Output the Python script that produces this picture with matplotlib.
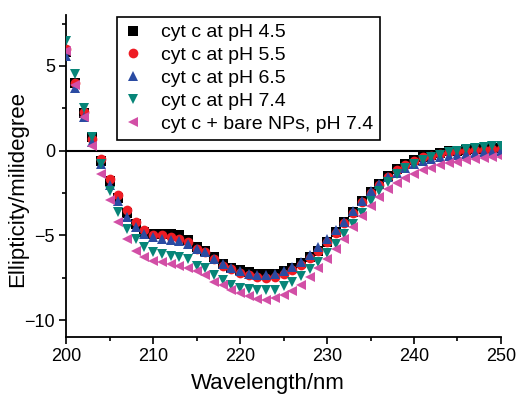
import numpy as np
import matplotlib
matplotlib.use("Agg")
import matplotlib.pyplot as plt
from matplotlib.ticker import MultipleLocator

plt.rcParams['font.family'] = ['Liberation Sans', 'DejaVu Sans']

wavelength = list(range(200, 251))

ph45 = [5.8, 4.0, 2.2, 0.8, -0.6, -1.8, -2.8, -3.7, -4.3, -4.8,
        -4.9, -4.9, -4.9, -5.0, -5.3, -5.7, -5.9, -6.3, -6.7, -6.9,
        -7.05, -7.15, -7.25, -7.3, -7.25, -7.1, -6.9, -6.65, -6.3, -5.9,
        -5.4, -4.8, -4.2, -3.6, -3.0, -2.45, -1.95, -1.5, -1.1, -0.8,
        -0.55, -0.4, -0.25, -0.15, -0.05, 0.0, 0.05, 0.1, 0.1, 0.15, 0.15]

ph55 = [6.0, 4.0, 2.3, 0.7, -0.5, -1.7, -2.6, -3.5, -4.2, -4.7,
        -4.95, -5.0, -5.1, -5.2, -5.4, -5.8, -6.0, -6.4, -6.8, -7.0,
        -7.2, -7.35, -7.45, -7.5, -7.45, -7.3, -7.05, -6.75, -6.35, -5.9,
        -5.4, -4.85, -4.25, -3.65, -3.05, -2.5, -2.0, -1.55, -1.15, -0.85,
        -0.6, -0.4, -0.3, -0.2, -0.1, -0.05, 0.0, 0.05, 0.05, 0.1, 0.1]

ph65 = [5.6, 3.7, 2.0, 0.5, -0.8, -2.0, -3.0, -3.9, -4.5, -4.9,
        -5.1, -5.2, -5.3, -5.35, -5.5, -5.8, -6.0, -6.4, -6.7, -6.95,
        -7.1, -7.25, -7.35, -7.35, -7.25, -7.1, -6.85, -6.55, -6.15, -5.7,
        -5.2, -4.7, -4.2, -3.55, -2.95, -2.4, -1.95, -1.55, -1.3, -1.0,
        -0.8, -0.6, -0.5, -0.4, -0.3, -0.25, -0.2, -0.15, -0.1, -0.1, -0.05]

ph74 = [6.5, 4.5, 2.5, 0.8, -0.8, -2.4, -3.6, -4.6, -5.2, -5.7,
        -6.0, -6.1, -6.2, -6.25, -6.4, -6.8, -6.9, -7.35, -7.65, -7.95,
        -8.1, -8.15, -8.25, -8.25, -8.2, -8.0, -7.75, -7.4, -7.0, -6.6,
        -6.05, -5.5, -4.9, -4.3, -3.7, -3.0, -2.4, -1.85, -1.4, -1.05,
        -0.8, -0.55, -0.4, -0.25, -0.1, 0.0, 0.1, 0.15, 0.2, 0.25, 0.3]

bare_np = [5.9, 3.9, 2.0, 0.3, -1.4, -2.9, -4.2, -5.2, -5.9, -6.3,
           -6.5, -6.6, -6.7, -6.8, -6.95, -7.1, -7.35, -7.75, -7.95, -8.25,
           -8.4, -8.6, -8.75, -8.8, -8.7, -8.5, -8.3, -7.95, -7.45, -6.95,
           -6.4, -5.8, -5.2, -4.5, -3.85, -3.25, -2.75, -2.25, -1.9, -1.6,
           -1.35, -1.15, -1.0, -0.85, -0.75, -0.65, -0.55, -0.5, -0.45, -0.4, -0.35]

labels = ["cyt c at pH 4.5", "cyt c at pH 5.5", "cyt c at pH 6.5",
          "cyt c at pH 7.4", "cyt c + bare NPs, pH 7.4"]

series = [ph45, ph55, ph65, ph74, bare_np]
markers = ['s', 'o', '^', 'v', '<']
colors = ['#000000', '#ee1c24', '#2a4ba2', '#078578', '#d24fa6']
sizes = [6.5, 7, 7.5, 7.5, 7.5]

fig = plt.figure(figsize=(5.17, 3.97), dpi=100)
ax = fig.add_axes([0.128, 0.151, 0.841, 0.811])

ax.axhline(0, color='black', lw=1.5, zorder=1)

for y, m, c, s, lab in zip(series, markers, colors, sizes, labels):
    ax.plot(wavelength, y, linestyle='none', marker=m, color=c,
            markersize=s, markeredgewidth=0, label=lab, zorder=3)

ax.set_xlim(200, 250)
ax.set_ylim(-11, 8)
ax.xaxis.set_major_locator(MultipleLocator(10))
ax.xaxis.set_minor_locator(MultipleLocator(5))
ax.yaxis.set_major_locator(MultipleLocator(5))
ax.yaxis.set_minor_locator(MultipleLocator(2.5))

for side in ['top', 'right']:
    ax.spines[side].set_visible(False)
for side in ['left', 'bottom']:
    ax.spines[side].set_linewidth(1.3)

ax.tick_params(which='major', direction='out', length=5, width=1.2,
               labelsize=13, pad=3)
ax.tick_params(which='minor', direction='out', length=3, width=1.2)

ax.set_xlabel("Wavelength/nm", fontsize=16)
ax.set_ylabel("Ellipticity/milidegree", fontsize=16)
ax.xaxis.set_label_coords(0.464, -0.112)
ax.yaxis.set_label_coords(-0.088, 0.46)

leg = ax.legend(loc='upper left', bbox_to_anchor=(0.117, 0.994),
                fontsize=14, frameon=True, fancybox=False, framealpha=1,
                edgecolor='black', handletextpad=0.95, labelspacing=0.27,
                borderpad=0.35, handlelength=0.95, borderaxespad=0)
leg.get_frame().set_linewidth(1.2)

fig.savefig("out.png", dpi=100)
